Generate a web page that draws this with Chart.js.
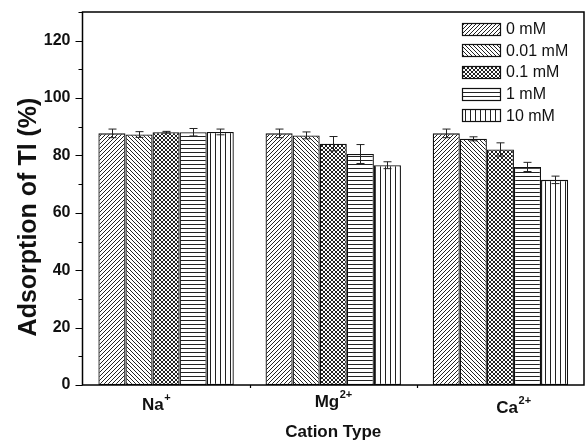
<!DOCTYPE html>
<html>
<head>
<meta charset="utf-8">
<script src="https://cdn.jsdelivr.net/npm/chart.js@4.4.1/dist/chart.umd.min.js"></script>
<style>
html,body{margin:0;padding:0;background:#fff;}
#wrap{width:586px;height:440px;position:relative;}
</style>
</head>
<body>
<div id="wrap"><canvas id="c" width="586" height="440"></canvas></div>
<script>
// ---- data ----
const categories = ['Na', 'Mg', 'Ca'];
const superscripts = ['+', '2+', '2+'];
const seriesLabels = ['0 mM', '0.01 mM', '0.1 mM', '1 mM', '10 mM'];
const s0mM   = [87.7, 87.7, 87.7];
const s001mM = [87.3, 87.0, 85.8];
const s01mM  = [88.1, 84.1, 82.1];
const s1mM   = [88.1, 80.5, 76.0];
const s10mM  = [88.2, 76.6, 71.5];
const e0mM   = [1.5, 1.5, 1.5];
const e001mM = [1.0, 1.2, 0.7];
const e01mM  = [0.3, 2.5, 2.3];
const e1mM   = [1.3, 3.3, 1.6];
const e10mM  = [1.0, 1.2, 1.3];
const yTickLabels = [0, 20, 40, 60, 80, 100, 120];
const xTitle = 'Cation Type';
const yTitle = 'Adsorption of Tl (%)';

// label placement quirks of the original (style, not data)
const LABEL_DX = [-10, 0, 13];
const LABEL_BASE = [410, 407, 413];

const seriesValues = [s0mM, s001mM, s01mM, s1mM, s10mM];
const seriesErrors = [e0mM, e001mM, e01mM, e1mM, e10mM];
const patternTypes = ['fwd', 'back', 'cross', 'horiz', 'vert'];

function makePattern(type) {
  const cv = document.createElement('canvas');
  const ctx = cv.getContext('2d');
  let s = 4;
  if (type === 'vert') s = 5;
  cv.width = s; cv.height = s;
  ctx.fillStyle = '#fff';
  ctx.fillRect(0, 0, s, s);
  ctx.strokeStyle = '#222';
  ctx.lineWidth = 1;
  ctx.beginPath();
  if (type === 'fwd' || type === 'cross') {
    ctx.moveTo(-1, s + 1); ctx.lineTo(s + 1, -1);
    ctx.moveTo(-1, 1); ctx.lineTo(1, -1);
    ctx.moveTo(s - 1, s + 1); ctx.lineTo(s + 1, s - 1);
  }
  if (type === 'back' || type === 'cross') {
    ctx.moveTo(-1, -1); ctx.lineTo(s + 1, s + 1);
    ctx.moveTo(s - 1, -1); ctx.lineTo(s + 1, 1);
    ctx.moveTo(-1, s - 1); ctx.lineTo(1, s + 1);
  }
  if (type === 'horiz') { ctx.moveTo(0, 0.5); ctx.lineTo(s, 0.5); }
  if (type === 'vert') { ctx.moveTo(0.5, 0); ctx.lineTo(0.5, s); }
  ctx.stroke();
  return document.getElementById('c').getContext('2d').createPattern(cv, 'repeat');
}
const patterns = patternTypes.map(makePattern);

const datasets = seriesLabels.map((lab, i) => ({
  label: lab,
  data: seriesValues[i],
  errors: seriesErrors[i],
  backgroundColor: patterns[i],
  borderColor: '#111',
  borderWidth: 1.3,
  borderSkipped: false,
  categoryPercentage: 0.81,
  barPercentage: 1.0
}));

const FONT = '"Liberation Sans", Arial, Helvetica, sans-serif';

const decor = {
  id: 'decor',
  afterDatasetsDraw(chart) {
    const ctx = chart.ctx;
    const y = chart.scales.y;
    ctx.save();
    ctx.strokeStyle = '#222';
    ctx.lineWidth = 1;
    chart.data.datasets.forEach((ds, i) => {
      const meta = chart.getDatasetMeta(i);
      meta.data.forEach((el, j) => {
        const v = ds.data[j], e = ds.errors[j];
        const x = Math.round(el.x) + 0.5;
        const yt = y.getPixelForValue(v + e), yb = y.getPixelForValue(v - e);
        ctx.beginPath();
        ctx.moveTo(x, yt); ctx.lineTo(x, yb);
        ctx.moveTo(x - 4, yt); ctx.lineTo(x + 4, yt);
        ctx.moveTo(x - 4, yb); ctx.lineTo(x + 4, yb);
        ctx.stroke();
      });
    });
    ctx.restore();
  },
  afterDraw(chart) {
    const ctx = chart.ctx;
    const a = chart.chartArea;
    const y = chart.scales.y, x = chart.scales.x;
    ctx.save();
    ctx.strokeStyle = '#000';
    ctx.lineWidth = 1.5;
    ctx.strokeRect(a.left, a.top, a.right - a.left, a.bottom - a.top);
    ctx.lineWidth = 1.2;
    ctx.beginPath();
    for (let v = 0; v <= 130; v += 10) {
      const py = Math.round(y.getPixelForValue(v)) + 0.5;
      const len = (v % 20 === 0) ? 7 : 4;
      ctx.moveTo(a.left - len, py); ctx.lineTo(a.left, py);
    }
    for (let k = 1; k < categories.length; k++) {
      const px = Math.round((x.getPixelForTick(k - 1) + x.getPixelForTick(k)) / 2) + 0.5;
      ctx.moveTo(px, a.bottom); ctx.lineTo(px, a.bottom + 3);
    }
    ctx.stroke();
    // x category labels with superscripts
    ctx.fillStyle = '#111';
    ctx.textBaseline = 'alphabetic';
    categories.forEach((c, i) => {
      const px = x.getPixelForTick(i) + LABEL_DX[i];
      ctx.font = 'bold 17px ' + FONT;
      const w1 = ctx.measureText(c).width;
      ctx.font = 'bold 11px ' + FONT;
      const w2 = ctx.measureText(superscripts[i]).width;
      const start = px - (w1 + w2) / 2;
      ctx.font = 'bold 17px ' + FONT;
      ctx.textAlign = 'left';
      ctx.fillText(c, start, LABEL_BASE[i]);
      ctx.font = 'bold 11px ' + FONT;
      ctx.fillText(superscripts[i], start + w1 + 0.5, LABEL_BASE[i] - 9);
    });
    // axis titles
    ctx.textAlign = 'center';
    ctx.textBaseline = 'middle';
    ctx.font = 'bold 17px ' + FONT;
    ctx.fillText(xTitle, (a.left + a.right) / 2, 432);
    ctx.save();
    ctx.translate(29, 217);
    ctx.rotate(-Math.PI / 2);
    ctx.font = 'bold 25px ' + FONT;
    ctx.fillText(yTitle, 0, 0);
    ctx.restore();
    // legend
    ctx.font = '16px ' + FONT;
    ctx.textAlign = 'left';
    ctx.textBaseline = 'middle';
    chart.data.datasets.forEach((ds, i) => {
      const cy = 28.5 + i * 21.7;
      const bx = 462.5, by = Math.round(cy - 6) + 0.5;
      ctx.fillStyle = ds.backgroundColor;
      ctx.fillRect(bx, by, 38, 12);
      ctx.strokeStyle = '#111';
      ctx.lineWidth = 1.2;
      ctx.strokeRect(bx, by, 38, 12);
      ctx.fillStyle = '#111';
      ctx.fillText(ds.label, 506, cy + 1);
    });
    ctx.restore();
  }
};

new Chart(document.getElementById('c'), {
  type: 'bar',
  data: { labels: categories, datasets: datasets },
  options: {
    responsive: false,
    animation: false,
    layout: { padding: { top: 12, right: 2, left: 0, bottom: 0 } },
    plugins: { legend: { display: false }, tooltip: { enabled: false } },
    scales: {
      x: {
        grid: { display: false, drawTicks: false },
        border: { display: false },
        ticks: { color: 'rgba(0,0,0,0)', font: { family: FONT, size: 17, weight: 'bold' }, padding: 10 },
        afterFit(s) { s.height = 55; s.paddingLeft = 0; s.paddingRight = 0; }
      },
      y: {
        min: 0, max: 130,
        grid: { display: false, drawTicks: false },
        border: { display: false },
        ticks: {
          stepSize: 20,
          includeBounds: false,
          padding: 12,
          color: '#111',
          font: { family: FONT, size: 16, weight: 'bold' },
          callback: (v) => yTickLabels.includes(v) ? String(v) : ''
        },
        afterFit(s) { s.width = 82.5; s.paddingTop = 0; s.paddingBottom = 0; }
      }
    }
  },
  plugins: [decor]
});
</script>
</body>
</html>
